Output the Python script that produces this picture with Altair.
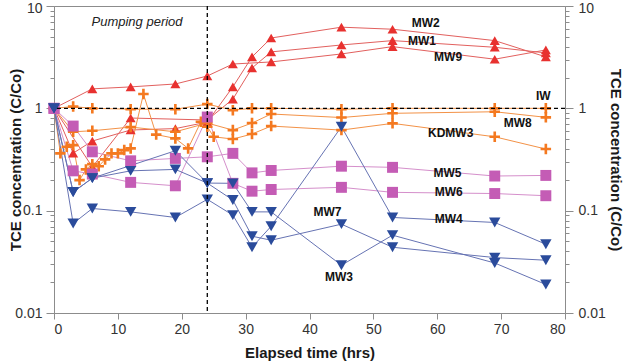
import altair as alt
import pandas as pd

FONT = "Liberation Sans"

# Sampling times (hrs) and relative TCE concentration C/Co for each well
mw2_t = [0, 3, 6, 12, 19, 24, 28, 31, 34, 45, 53, 69, 77]
mw2_c = [1.0, 0.365, 0.479, 0.614, 0.634, 0.734, 1.62, 3.18, 4.87, 6.21, 5.93, 4.59, 3.18]

mw1_t = [0, 6, 12, 24, 28, 31, 34, 45, 53, 69, 77]
mw1_c = [1.0, 0.267, 0.804, 0.769, 1.23, 2.48, 3.56, 4.16, 4.59, 3.95, 3.48]

mw9_t = [0, 6, 12, 19, 24, 28, 34, 45, 53, 69, 77]
mw9_c = [1.0, 1.55, 1.62, 1.73, 2.07, 2.71, 2.84, 3.40, 4.01, 3.02, 3.72]

iw_t = [0, 3, 6, 12, 19, 24, 28, 31, 34, 45, 53, 69, 77]
iw_c = [1.0, 1.04, 1.0, 0.98, 0.98, 1.10, 0.96, 1.0, 1.0, 0.98, 1.0, 1.0, 1.0]

mw8_t = [0, 3, 6, 12, 19, 24, 28, 31, 34, 45, 53, 69, 77]
mw8_c = [1.0, 0.59, 0.604, 0.656, 0.59, 0.718, 0.613, 0.718, 0.88, 0.813, 0.894, 0.926, 0.817]

kdmw3_t = [0, 1, 2, 3, 4, 5, 6, 7, 8, 9, 10, 11, 12, 14, 16, 19, 21, 23, 24, 25,
           28, 31, 34, 45, 53, 69, 77]
kdmw3_c = [1.0, 0.363, 0.421, 0.437, 0.199, 0.253, 0.285, 0.272, 0.317, 0.363, 0.363,
           0.391, 0.406, 1.38, 0.554, 0.508, 0.406, 0.739, 0.661, 0.527,
           0.501, 0.561, 0.671, 0.613, 0.713, 0.527, 0.400]

mw5_t = [0, 3, 6, 12, 19, 24, 28, 31, 34, 45, 53, 69, 77]
mw5_c = [1.0, 0.671, 0.376, 0.307, 0.324, 0.336, 0.363, 0.234, 0.247, 0.272, 0.265, 0.218, 0.221]

mw6_t = [0, 3, 6, 12, 19, 24, 28, 31, 34, 45, 53, 69, 77]
mw6_c = [1.0, 0.245, 0.228, 0.189, 0.175, 0.822, 0.185, 0.155, 0.161, 0.169, 0.151, 0.147, 0.140]

mw3_t = [0, 3, 6, 19, 24, 28, 31, 34, 45, 53, 69, 77]
mw3_c = [1.0, 0.152, 0.208, 0.385, 0.186, 0.185, 0.0973, 0.0973, 0.0293, 0.0576, 0.0308, 0.0190]

mw7_t = [0, 3, 6, 12, 19, 24, 28, 31, 34, 45, 53, 69, 77]
mw7_c = [1.0, 0.152, 0.208, 0.245, 0.253, 0.186, 0.127, 0.0563, 0.0514, 0.0738, 0.0439, 0.0348, 0.0328]

mw4_t = [0, 3, 6, 12, 19, 24, 28, 31, 34, 45, 53, 69, 77]
mw4_c = [1.0, 0.0749, 0.105, 0.0973, 0.0858, 0.129, 0.0904, 0.0439, 0.0705, 0.661, 0.0858, 0.0767, 0.047]

# well name, marker group, times, concentrations
wells = [
    ("MW2", "up", mw2_t, mw2_c),
    ("MW1", "up", mw1_t, mw1_c),
    ("MW9", "up", mw9_t, mw9_c),
    ("IW", "plus", iw_t, iw_c),
    ("MW8", "plus", mw8_t, mw8_c),
    ("KDMW3", "plus", kdmw3_t, kdmw3_c),
    ("MW5", "sq", mw5_t, mw5_c),
    ("MW6", "sq", mw6_t, mw6_c),
    ("MW3", "down", mw3_t, mw3_c),
    ("MW7", "down", mw7_t, mw7_c),
    ("MW4", "down", mw4_t, mw4_c),
]

rows = []
for name, grp, ts, cs in wells:
    for t, c in zip(ts, cs):
        rows.append({"well": name, "grp": grp, "t": t, "c": c})
df = pd.DataFrame(rows)

# Well name annotations (anchor time, concentration)
label_names = ["MW2", "MW1", "MW9", "IW", "MW8", "KDMW3", "MW5", "MW6", "MW4", "MW7", "MW3"]
label_t = [58.2, 57.6, 61.7, 76.6, 72.6, 62.1, 61.6, 61.8, 61.8, 42.8, 44.6]
label_c = [6.83, 4.59, 3.16, 1.32, 0.723, 0.569, 0.231, 0.151, 0.082, 0.0973, 0.0225]
labels = pd.DataFrame({"name": label_names, "t": label_t, "c": label_c})

pump = pd.DataFrame({"name": ["Pumping period"], "t": [13.0], "c": [6.99]})
unity = pd.DataFrame({"c": [1.0]})

# plus sign with slimmer arms than the built-in "cross" symbol
PLUS = "M-1,-0.25H-0.25V-1H0.25V-0.25H1V0.25H0.25V1H-0.25V0.25H-1Z"

groups = ["up", "plus", "sq", "down"]
marker_colors = ["#e8312f", "#f47920", "#c45cb5", "#2a4b9b"]
line_colors = ["#e2605e", "#f39247", "#d58fcb", "#6673b3"]
shapes = ["triangle-up", PLUS, "square", "triangle-down"]
sizes = [100, 130, 64, 100]

W, H = 511, 307
xscale = alt.Scale(domain=[0, 80], nice=False, zero=False)
yscale = alt.Scale(type="log", domain=[0.01, 10], nice=False)

y_ticks = []
for e in [-2, -1, 0]:
    for m in range(1, 10):
        y_ticks.append(round(m * 10 ** e, 6))
y_ticks.append(10)

major = "indexof([0.01, 0.1, 1, 10], datum.value) >= 0"
y_label_expr = ("datum.value == 10 ? '10' : datum.value == 1 ? '1' : "
                "datum.value == 0.1 ? '0.1' : datum.value == 0.01 ? '0.01' : ''")
y_tick_size = {"condition": {"test": major, "value": 8}, "value": 4}
# keep the top label inside the page
y_label_offset = {"condition": {"test": "datum.value == 10", "value": 2}, "value": 0}

left_axis = alt.Axis(
    orient="left", values=y_ticks, labelExpr=y_label_expr, tickSize=y_tick_size,
    labelOffset=y_label_offset,
    labelPadding=4, grid=False, title="TCE concentration (C/Co)",
    titleAngle=270, titleX=-39, titleY=H / 2, titleAlign="center",
    titleBaseline="middle",
)
right_axis = alt.Axis(
    orient="right", values=y_ticks, labelExpr=y_label_expr, tickSize=y_tick_size,
    labelOffset=y_label_offset,
    labelPadding=5, grid=False, title="TCE concentration (C/Co)",
    titleAngle=90, titleX=50, titleY=H / 2, titleAlign="center",
    titleBaseline="middle",
)
x_axis = alt.Axis(
    values=list(range(0, 81, 5)),
    labelExpr="datum.value % 10 === 0 ? '' + datum.value : ''",
    tickSize=6, labelPadding=3, grid=False, title="Elapsed time (hrs)",
    titleX=W / 2, titleY=44.5, titleBaseline="alphabetic", titleAlign="center",
)

x_enc = alt.X("t:Q", scale=xscale, axis=x_axis)

lines = alt.Chart(df).mark_line(strokeWidth=1).encode(
    x=x_enc,
    y=alt.Y("c:Q", scale=yscale, axis=left_axis),
    color=alt.Color("grp:N", scale=alt.Scale(domain=groups, range=line_colors), legend=None),
    detail="well:N",
    order="t:Q",
)

points = alt.Chart(df).mark_point(filled=True, opacity=1, strokeWidth=0).encode(
    x=alt.X("t:Q", scale=xscale),
    y=alt.Y("c:Q", scale=yscale, axis=None),
    color=alt.Color("grp:N", scale=alt.Scale(domain=groups, range=marker_colors), legend=None),
    shape=alt.Shape("grp:N", scale=alt.Scale(domain=groups, range=shapes), legend=None),
    size=alt.Size("grp:N", scale=alt.Scale(domain=groups, range=sizes), legend=None),
)

vrule = alt.Chart(unity).mark_rule(color="black", strokeDash=[4, 3], strokeWidth=1.3).encode(
    x=alt.datum(24)
)

hrule = alt.Chart(unity).mark_rule(color="black", strokeDash=[4, 3], strokeWidth=1.3).encode(
    y=alt.Y("c:Q", scale=yscale, axis=right_axis)
)

names = alt.Chart(labels).mark_text(
    font=FONT, fontSize=12, fontWeight="bold", color="#111111"
).encode(
    x=alt.X("t:Q", scale=xscale),
    y=alt.Y("c:Q", scale=yscale, axis=None),
    text="name:N",
)

pump_text = alt.Chart(pump).mark_text(
    font=FONT, fontSize=13, fontStyle="italic", color="#222222"
).encode(
    x=alt.X("t:Q", scale=xscale),
    y=alt.Y("c:Q", scale=yscale, axis=None),
    text="name:N",
)

chart = alt.layer(lines, points, vrule, hrule, names, pump_text).resolve_scale(
    y="independent", color="independent"
).properties(
    width=W, height=H,
    autosize=alt.AutoSizeParams(type="none"),
    padding={"left": 54, "top": 6, "right": 59, "bottom": 49},
    background="white",
).configure_view(
    stroke="#8c8c8c", strokeWidth=1
).configure_axis(
    domainColor="#8c8c8c", tickColor="#8c8c8c", domainWidth=1, tickWidth=1,
    labelFont=FONT, labelFontSize=14, labelColor="#333333",
    titleFont=FONT, titleFontSize=15, titleFontWeight="bold", titleColor="#1a1a1a",
)

chart.save("out.html", embed_options={"renderer": "svg", "actions": False})
